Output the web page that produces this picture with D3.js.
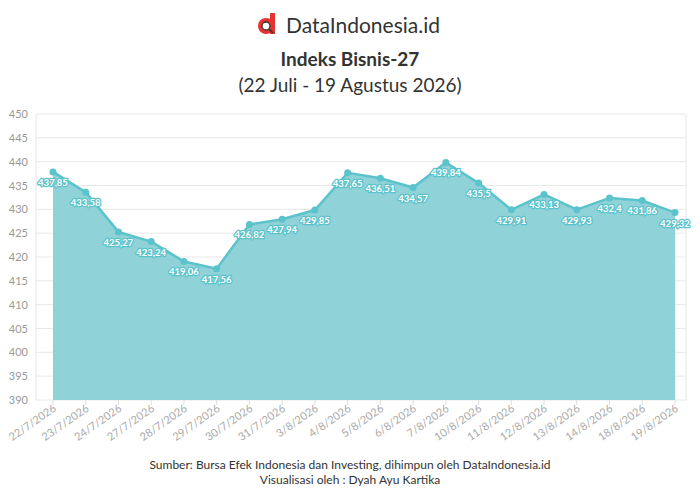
<!DOCTYPE html>
<html><head><meta charset="utf-8">
<script src="https://cdn.jsdelivr.net/npm/d3@7"></script>
<style>body{margin:0;background:#fff}svg{font-family:Lato,"Noto Sans",sans-serif}</style>
</head><body><svg id="c" width="700" height="494"></svg>
<script>
const dates=["22/7/2026","23/7/2026","24/7/2026","27/7/2026","28/7/2026","29/7/2026","30/7/2026","31/7/2026","3/8/2026","4/8/2026","5/8/2026","6/8/2026","7/8/2026","10/8/2026","11/8/2026","12/8/2026","13/8/2026","14/8/2026","18/8/2026","19/8/2026"];
const values=[437.85,433.58,425.27,423.24,419.06,417.56,426.82,427.94,429.85,437.65,436.51,434.57,439.84,435.5,429.91,433.13,429.93,432.4,431.86,429.32];
const yTicks=[390,395,400,405,410,415,420,425,430,435,440,445,450];
const svg=d3.select("#c");
const L=36,R=686,T=114,B=400;
const x=d3.scalePoint().domain(dates).range([53,675]);
const y=d3.scaleLinear().domain([390,450]).range([B,T]);
// header
const g0=svg.append("g");
g0.append("circle").attr("cx",266).attr("cy",26).attr("r",8).attr("fill","#e63232");
g0.append("rect").attr("x",270).attr("y",13).attr("width",5).attr("height",21).attr("fill","#e63232");
g0.append("circle").attr("cx",266).attr("cy",26).attr("r",4).attr("fill","#fff").attr("stroke","#333").attr("stroke-width",1.3);
g0.append("line").attr("x1",269).attr("y1",29).attr("x2",273).attr("y2",33).attr("stroke","#333").attr("stroke-width",1.6);
svg.append("text").attr("x",286).attr("y",33).attr("font-size",21).attr("fill","#333").text("DataIndonesia.id");
svg.append("text").attr("x",350).attr("y",66).attr("text-anchor","middle").attr("font-size",19).attr("font-weight","bold").attr("fill","#333").text("Indeks Bisnis-27");
svg.append("text").attr("x",350).attr("y",92).attr("text-anchor","middle").attr("font-size",19).attr("fill","#333").text("(22 Juli - 19 Agustus 2026)");
// grid
svg.append("g").selectAll("line").data(yTicks).join("line").attr("x1",L).attr("x2",R).attr("y1",d=>y(d)).attr("y2",d=>y(d)).attr("stroke","#e8e8e8");
svg.append("line").attr("x1",L).attr("x2",L).attr("y1",T).attr("y2",B).attr("stroke","#e8e8e8");
svg.append("line").attr("x1",R).attr("x2",R).attr("y1",T).attr("y2",B).attr("stroke","#e8e8e8");
svg.append("g").selectAll("text").data(yTicks).join("text").attr("x",L-8).attr("y",d=>y(d)+4).attr("text-anchor","end").attr("font-size",11).attr("fill","#999").text(d=>d);
// x ticks
svg.append("g").selectAll("line").data(dates).join("line").attr("x1",d=>x(d)).attr("x2",d=>x(d)).attr("y1",B).attr("y2",B+5).attr("stroke","#ddd");
svg.append("g").selectAll("text").data(dates).join("text").attr("font-size",11).attr("fill","#aaa").attr("text-anchor","end")
 .attr("transform",d=>`translate(${x(d)+4},${B+10}) rotate(-35)`).text(d=>d);
// area & line
const area=d3.area().x((d,i)=>x(dates[i])).y0(y(390)).y1(d=>y(d));
svg.append("path").datum(values).attr("d",area).attr("fill","#8fd2d8");
const line=d3.line().x((d,i)=>x(dates[i])).y(d=>y(d));
svg.append("path").datum(values).attr("d",line).attr("fill","none").attr("stroke","#5bc3cb").attr("stroke-width",2.5);
svg.append("g").selectAll("circle").data(values).join("circle").attr("cx",(d,i)=>x(dates[i])).attr("cy",d=>y(d)).attr("r",3.5).attr("fill","#5bc3cb");
svg.append("g").selectAll("text").data(values).join("text").attr("x",(d,i)=>x(dates[i])).attr("y",d=>y(d)+14)
 .attr("text-anchor","middle").attr("font-size",9.5).attr("font-weight","bold").attr("fill","#fff")
 .attr("stroke","#5bc3cb").attr("stroke-width",2.5).attr("paint-order","stroke").attr("stroke-linejoin","round")
 .text(d=>String(d).replace(".",","));
// footer
svg.append("text").attr("x",350).attr("y",469).attr("text-anchor","middle").attr("font-size",12).attr("fill","#333").text("Sumber: Bursa Efek Indonesia dan Investing, dihimpun oleh DataIndonesia.id");
svg.append("text").attr("x",350).attr("y",484).attr("text-anchor","middle").attr("font-size",12).attr("fill","#333").text("Visualisasi oleh : Dyah Ayu Kartika");
</script></body></html>
